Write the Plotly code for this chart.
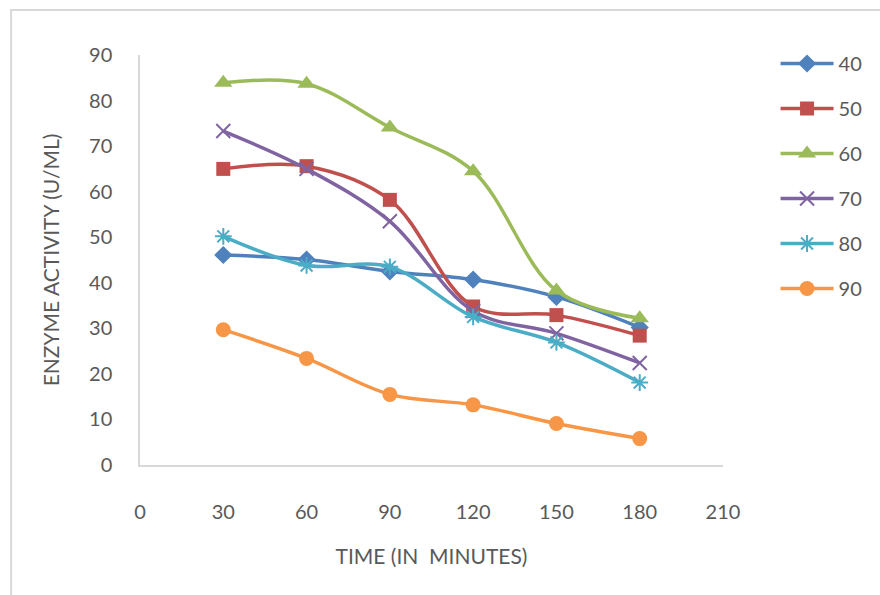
import plotly.graph_objects as go

# Incubation time (minutes) and enzyme activity (U/mL) at each temperature
time_min = [30, 60, 90, 120, 150, 180]
series_names = ["40", "50", "60", "70", "80", "90"]
act_40 = [46.1, 45.1, 42.5, 40.7, 36.9, 30.2]
act_50 = [65.0, 65.6, 58.2, 34.8, 32.9, 28.4]
act_60 = [83.9, 83.7, 74.1, 64.5, 38.3, 32.2]
act_70 = [73.3, 65.0, 53.5, 33.8, 28.9, 22.4]
act_80 = [50.2, 43.8, 43.5, 32.5, 26.9, 18.1]
act_90 = [29.7, 23.4, 15.5, 13.2, 9.1, 5.8]

x_ticks = [0, 30, 60, 90, 120, 150, 180, 210]
y_ticks = [0, 10, 20, 30, 40, 50, 60, 70, 80, 90]

colors = ["#4F81BD", "#C0504D", "#9BBB59", "#8064A2", "#4BACC6", "#F79646"]
symbols = ["diamond", "square", "triangle-up", "x-thin-open", "asterisk-open", "circle"]
sizes = [14, 14, 16, 14, 14, 15]
values = [act_40, act_50, act_60, act_70, act_80, act_90]

W, H = 880, 595
ML, MR, MT, MB = 140, 152, 55, 130
PW, PH = W - ML - MR, H - MT - MB
FONT = "Lato"
TXT = "#595959"
GRID = "#D9D9D9"


def px_x(px):
    return (px - ML) / PW


def px_y(py):
    return (H - MB - py) / PH


fig = go.Figure()
for name, vals, col, sym, sz in zip(series_names, values, colors, symbols, sizes):
    open_sym = sym.endswith("open")
    fig.add_trace(go.Scatter(
        x=time_min, y=vals, name=name, legendgroup=name,
        mode="lines+markers",
        line=dict(color=col, width=3.5, shape="spline", smoothing=1),
        marker=dict(symbol=sym, size=sz, color=col,
                    line=dict(color=col, width=2 if open_sym else 0)),
    ))

fig.update_layout(
    width=W, height=H,
    margin=dict(l=ML, r=MR, t=MT, b=MB),
    paper_bgcolor="white", plot_bgcolor="white",
    font=dict(family=FONT, color=TXT, size=19),
    showlegend=True,
    legend=dict(x=px_x(781), y=px_y(44), xanchor="left", yanchor="top",
                font=dict(family=FONT, size=20, color=TXT),
                tracegroupgap=16, itemwidth=53, bgcolor="rgba(0,0,0,0)"),
    xaxis=dict(range=[0, 210], tickvals=x_ticks, ticktext=[str(v) for v in x_ticks],
               showline=True, linecolor=GRID, linewidth=1.5, showgrid=False,
               zeroline=False, ticks="", ticklabelstandoff=28,
               tickfont=dict(family=FONT, size=20, color=TXT),
               title=dict(text="TIME (IN  MINUTES)", standoff=28,
                          font=dict(family=FONT, size=21, color=TXT))),
    yaxis=dict(range=[0, 90], tickvals=y_ticks, ticktext=[str(v) for v in y_ticks],
               showline=True, linecolor=GRID, linewidth=1.5, showgrid=False,
               zeroline=False, ticks="", ticklabelstandoff=22,
               tickfont=dict(family=FONT, size=20, color=TXT),
               title=dict(text="ENZYME ACTIVITY (U/ML)", standoff=24,
                          font=dict(family=FONT, size=21, color=TXT))),
    shapes=[dict(type="path", xref="paper", yref="paper",
                 path=f"M {px_x(10)} {px_y(600)} L {px_x(10)} {px_y(10)} L {px_x(890)} {px_y(10)}",
                 line=dict(color=GRID, width=2), layer="below")],
)

fig.write_html("out.html")
